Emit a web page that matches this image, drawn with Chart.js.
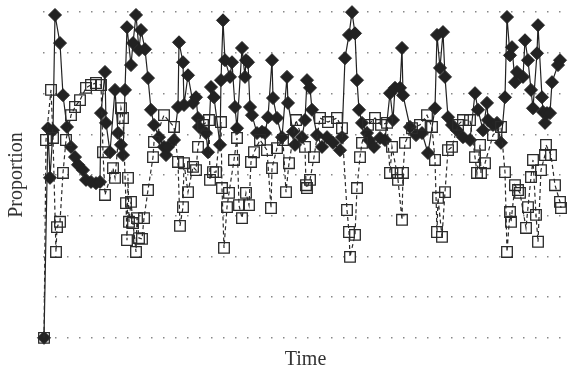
<!DOCTYPE html>
<html>
<head>
<meta charset="utf-8">
<script src="https://cdn.jsdelivr.net/npm/chart.js@4/dist/chart.umd.min.js"></script>
<style>
  html, body { margin: 0; padding: 0; background: #fff; }
  #wrap { width: 568px; height: 375px; }
</style>
</head>
<body>
<div id="wrap"><canvas id="prop-chart"></canvas></div>
<script>
// filled diamonds, solid line
const diamondTime = [0, 4, 6, 9, 11, 16, 19, 23, 27, 31, 34, 39, 42, 47, 52, 56, 57, 61, 62, 66,
  71, 74, 77, 79, 81, 83, 87, 89, 92, 95, 97, 101, 104, 107, 110, 115, 120, 122, 124, 130,
  134, 135, 139, 140, 144, 149, 152, 154, 155, 162, 164, 167, 170, 176, 177, 179, 181, 186, 188, 191,
  193, 198, 201, 202, 204, 206, 208, 213, 218, 221, 224, 228, 229, 233, 238, 243, 244, 249, 251, 258,
  261, 263, 266, 268, 273, 278, 283, 289, 296, 298, 301, 305, 308, 311, 313, 315, 318, 323, 325, 330,
  336, 341, 346, 349, 351, 356, 358, 359, 366, 372, 378, 384, 391, 393, 396, 399, 401, 404, 408, 413,
  419, 426, 431, 434, 439, 443, 444, 449, 453, 457, 461, 463, 466, 468, 471, 473, 479, 481, 484, 487,
  489, 493, 494, 498, 499, 501, 503, 506, 508, 514, 516];
const diamondValue = [0, 0.515, 0.393, 0.510, 0.793, 0.724, 0.596, 0.518, 0.469, 0.444, 0.425, 0.412, 0.388, 0.383, 0.380, 0.383, 0.552, 0.653, 0.528, 0.456,
  0.609, 0.503, 0.474, 0.449, 0.609, 0.763, 0.670, 0.724, 0.793, 0.707, 0.756, 0.709, 0.638, 0.560, 0.523, 0.493, 0.469, 0.449, 0.469, 0.486,
  0.567, 0.726, 0.677, 0.572, 0.645, 0.577, 0.591, 0.540, 0.518, 0.503, 0.456, 0.616, 0.591, 0.474, 0.633, 0.780, 0.682, 0.641, 0.677, 0.567,
  0.515, 0.712, 0.641, 0.682, 0.677, 0.567, 0.547, 0.503, 0.506, 0.503, 0.542, 0.682, 0.589, 0.540, 0.493, 0.641, 0.577, 0.506, 0.474, 0.493,
  0.535, 0.633, 0.614, 0.560, 0.498, 0.469, 0.493, 0.479, 0.461, 0.493, 0.687, 0.744, 0.800, 0.748, 0.633, 0.560, 0.528, 0.503, 0.486, 0.469,
  0.491, 0.486, 0.601, 0.535, 0.614, 0.614, 0.712, 0.596, 0.518, 0.498, 0.503, 0.454, 0.564, 0.744, 0.663, 0.751, 0.641, 0.542, 0.523, 0.510,
  0.493, 0.486, 0.601, 0.560, 0.510, 0.577, 0.535, 0.523, 0.528, 0.479, 0.591, 0.788, 0.694, 0.714, 0.628, 0.653, 0.641, 0.731, 0.682, 0.609,
  0.564, 0.699, 0.768, 0.591, 0.555, 0.528, 0.552, 0.552, 0.628, 0.670, 0.682];

// open squares, dashed line
const squareTime = [0, 2, 7, 9, 12, 13, 16, 19, 22, 27, 31, 36, 42, 47, 52, 57, 59, 61, 69, 71,
  77, 79, 82, 83, 84, 85, 87, 89, 92, 93, 95, 98, 100, 104, 109, 110, 120, 130, 134, 136,
  139, 140, 144, 149, 152, 154, 159, 165, 166, 169, 172, 177, 178, 180, 183, 185, 190, 193, 195, 198,
  202, 205, 207, 210, 216, 223, 227, 228, 233, 239, 242, 245, 252, 261, 262, 263, 266, 270, 276, 284,
  293, 298, 303, 305, 306, 311, 313, 316, 318, 324, 331, 337, 343, 346, 348, 353, 354, 358, 359, 361,
  368, 376, 383, 388, 391, 393, 394, 398, 401, 404, 408, 414, 419, 426, 431, 433, 436, 437, 441, 449,
  457, 461, 463, 466, 467, 471, 474, 476, 482, 484, 487, 489, 492, 494, 497, 501, 502, 507, 511, 516, 517];
const squareValue = [0, 0.486, 0.609, 0.491, 0.211, 0.272, 0.285, 0.405, 0.486, 0.547, 0.567, 0.584, 0.614, 0.621, 0.626, 0.621, 0.456, 0.351, 0.417, 0.393,
  0.564, 0.540, 0.331, 0.240, 0.393, 0.285, 0.334, 0.282, 0.211, 0.294, 0.245, 0.243, 0.294, 0.363, 0.444, 0.481, 0.547, 0.518, 0.432, 0.275,
  0.321, 0.429, 0.358, 0.420, 0.412, 0.469, 0.523, 0.535, 0.388, 0.407, 0.407, 0.530, 0.368, 0.221, 0.321, 0.356, 0.437, 0.491, 0.326, 0.294,
  0.356, 0.326, 0.432, 0.456, 0.486, 0.461, 0.319, 0.417, 0.466, 0.486, 0.358, 0.429, 0.535, 0.469, 0.375, 0.368, 0.388, 0.444, 0.540, 0.530,
  0.540, 0.515, 0.314, 0.260, 0.199, 0.253, 0.368, 0.444, 0.479, 0.523, 0.540, 0.523, 0.528, 0.405, 0.469, 0.405, 0.388, 0.290, 0.405, 0.479,
  0.515, 0.523, 0.547, 0.518, 0.437, 0.260, 0.344, 0.248, 0.358, 0.461, 0.469, 0.523, 0.535, 0.535, 0.444, 0.405, 0.474, 0.405, 0.429, 0.498,
  0.518, 0.407, 0.211, 0.309, 0.285, 0.375, 0.363, 0.356, 0.270, 0.321, 0.395, 0.437, 0.302, 0.236, 0.412, 0.449, 0.474, 0.449, 0.375, 0.334, 0.319];

const yGridSteps = [0, 0.1, 0.2, 0.3, 0.4, 0.5, 0.6, 0.7, 0.8];

const toPoints = (xs, ys) => xs.map((x, i) => ({ x, y: ys[i] }));
const serif = 'Liberation Serif';
const ink = '#222';

new Chart(document.getElementById('prop-chart'), {
  type: 'scatter',
  data: {
    datasets: [
      {
        data: toPoints(squareTime, squareValue),
        showLine: true,
        clip: false,
        borderColor: '#2a2a2a',
        borderWidth: 1.2,
        borderDash: [4, 3],
        pointStyle: 'rect',
        pointRadius: 7.5,
        pointBorderWidth: 1.3,
        pointBorderColor: '#2a2a2a',
        pointBackgroundColor: 'rgba(255,255,255,0)',
        tension: 0,
      },
      {
        data: toPoints(diamondTime, diamondValue),
        showLine: true,
        clip: false,
        borderColor: ink,
        borderWidth: 1.2,
        pointStyle: 'rectRot',
        pointRadius: 6.5,
        pointBorderWidth: 1,
        pointBorderColor: ink,
        pointBackgroundColor: ink,
        tension: 0,
      },
    ],
  },
  options: {
    responsive: true,
    maintainAspectRatio: false,
    animation: false,
    layout: { autoPadding: false, padding: { left: 5, right: 0, top: 4, bottom: 3 } },
    plugins: { legend: { display: false }, tooltip: { enabled: false } },
    scales: {
      x: {
        type: 'linear',
        min: -1,
        max: 524,
        grid: { display: false, drawTicks: false },
        border: { display: false },
        ticks: { display: false },
        title: { display: true, text: 'Time', color: '#333', font: { family: serif, size: 20 }, padding: { top: 2, bottom: 0 } },
      },
      y: {
        min: -0.02,
        max: 0.82,
        afterBuildTicks: axis => {
          axis.ticks = yGridSteps.map(v => ({ value: v }));
        },
        grid: { color: '#888', lineWidth: 1.5, drawTicks: false },
        border: { display: false, dash: [1.5, 10.5] },
        ticks: { display: false },
        title: { display: true, text: 'Proportion', color: '#333', font: { family: serif, size: 20 }, padding: { top: 0, bottom: 14 } },
      },
    },
  },
});
</script>
</body>
</html>
